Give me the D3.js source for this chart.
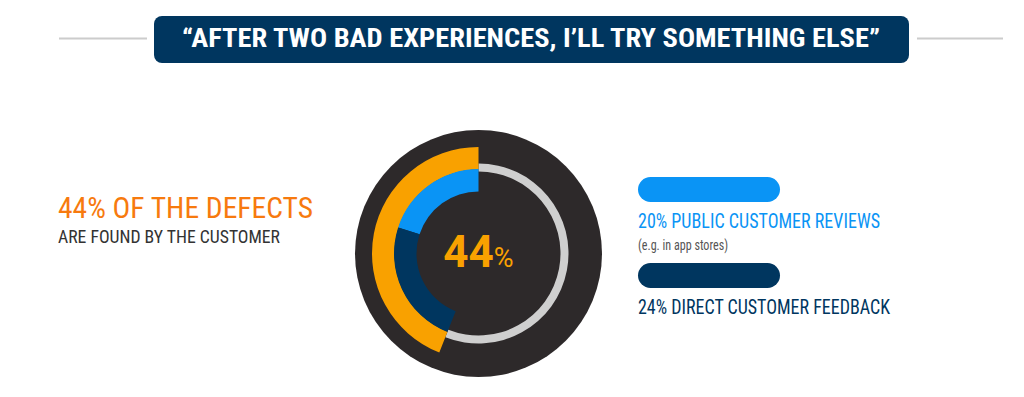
<!DOCTYPE html>
<html>
<head>
<meta charset="utf-8">
<script src="https://cdn.jsdelivr.net/npm/d3@7"></script>
<style>
  html, body { margin: 0; padding: 0; background: #fff; }
  .cond { font-family: "Liberation Sans Narrow", "Roboto Condensed", "DejaVu Sans Condensed", "Liberation Sans", sans-serif; font-stretch: condensed; }
</style>
</head>
<body>
<div id="chart"></div>
<script>
// Data
var titleText = '\u201CAFTER TWO BAD EXPERIENCES, I\u2019LL TRY SOMETHING ELSE\u201D';
var totalPct = 44;
var totalLabel = ['44% OF THE DEFECTS', 'ARE FOUND BY THE CUSTOMER'];
var segNames = ['Public customer reviews', 'Direct customer feedback'];
var segValues = [20, 24];
var segLabels = ['20% PUBLIC CUSTOMER REVIEWS', '24% DIRECT CUSTOMER FEEDBACK'];
var segNotes = ['(e.g. in app stores)', ''];

var COLORS = { orange: '#f9a100', blue: '#0a94f5', navy: '#00365f', dark: '#2d292a', ring: '#cfcfcf', text: '#333333', title: '#f77a0e' };
var segColors = [COLORS.blue, COLORS.navy];

var W = 1024, H = 397;
var svg = d3.select('#chart').append('svg').attr('width', W).attr('height', H);
svg.append('rect').attr('width', W).attr('height', H).attr('fill', '#fff');

// Title banner with side rules
svg.append('line').attr('x1', 59).attr('x2', 147).attr('y1', 38.5).attr('y2', 38.5).attr('stroke', '#cccccc').attr('stroke-width', 2);
svg.append('line').attr('x1', 917).attr('x2', 1003).attr('y1', 38.5).attr('y2', 38.5).attr('stroke', '#cccccc').attr('stroke-width', 2);
svg.append('rect').attr('x', 154).attr('y', 16).attr('width', 755).attr('height', 47).attr('rx', 8).attr('fill', COLORS.navy);
svg.append('text').attr('class', 'cond').attr('x', 531).attr('y', 47).attr('text-anchor', 'middle')
  .attr('font-size', 26).attr('font-weight', 'bold').attr('fill', '#fff')
  .attr('textLength', 698).attr('lengthAdjust', 'spacingAndGlyphs').text(titleText);

// Left text
svg.append('text').attr('class', 'cond').attr('x', 58).attr('y', 218).attr('font-size', 29).attr('fill', COLORS.title)
  .attr('textLength', 255).attr('lengthAdjust', 'spacingAndGlyphs').text(totalLabel[0]);
svg.append('text').attr('class', 'cond').attr('x', 58).attr('y', 243).attr('font-size', 18).attr('fill', COLORS.text)
  .attr('textLength', 222).attr('lengthAdjust', 'spacingAndGlyphs').text(totalLabel[1]);

// Donut
var cx = 478.5, cy = 253.5;
var g = svg.append('g').attr('transform', 'translate(' + cx + ',' + cy + ')');
var angle = d3.scaleLinear().domain([0, 100]).range([0, 2 * Math.PI]);
var arc = d3.arc();

g.append('circle').attr('r', 123.5).attr('fill', COLORS.dark);

// gray remainder ring
g.append('path').attr('fill', COLORS.ring).attr('d', arc({
  innerRadius: 82, outerRadius: 90, startAngle: angle(0), endAngle: angle(100 - totalPct)
}));

// orange total arc (counter-clockwise from top)
g.append('path').attr('fill', COLORS.orange).attr('d', arc({
  innerRadius: 84, outerRadius: 106.5, startAngle: -angle(totalPct), endAngle: 0
}));

// stacked breakdown arcs
var cum = 0;
segValues.forEach(function(v, i) {
  g.append('path').attr('fill', segColors[i]).attr('d', arc({
    innerRadius: 62, outerRadius: 84.5, startAngle: -angle(cum + v), endAngle: -angle(cum)
  })).append('title').text(segNames[i] + ': ' + v + '%');
  cum += v;
});

var ct = g.append('text').attr('x', 0).attr('y', 13.5).attr('text-anchor', 'middle')
  .attr('font-family', 'Roboto, "Liberation Sans", sans-serif').attr('font-weight', 'bold').attr('fill', COLORS.orange);
ct.append('tspan').attr('font-size', 44).text(totalPct);
ct.append('tspan').attr('font-size', 27).attr('font-weight', 'normal').text('%');

// Legend pills
var y = d3.scaleBand().domain(segNames).range([177, 349]).paddingInner(0);
segNames.forEach(function(name, i) {
  var y0 = y(name);
  svg.append('rect').attr('x', 638).attr('y', y0).attr('width', 142).attr('height', 25).attr('rx', 12.5).attr('fill', segColors[i]);
  svg.append('text').attr('class', 'cond').attr('x', 638).attr('y', y0 + 51).attr('font-size', 20).attr('fill', segColors[i])
    .attr('textLength', i === 0 ? 242 : 252).attr('lengthAdjust', 'spacingAndGlyphs').text(segLabels[i]);
  if (segNotes[i]) {
    svg.append('text').attr('class', 'cond').attr('x', 638).attr('y', y0 + 73).attr('font-size', 14).attr('fill', '#555')
      .attr('textLength', 90).attr('lengthAdjust', 'spacingAndGlyphs').text(segNotes[i]);
  }
});
</script>
</body>
</html>
